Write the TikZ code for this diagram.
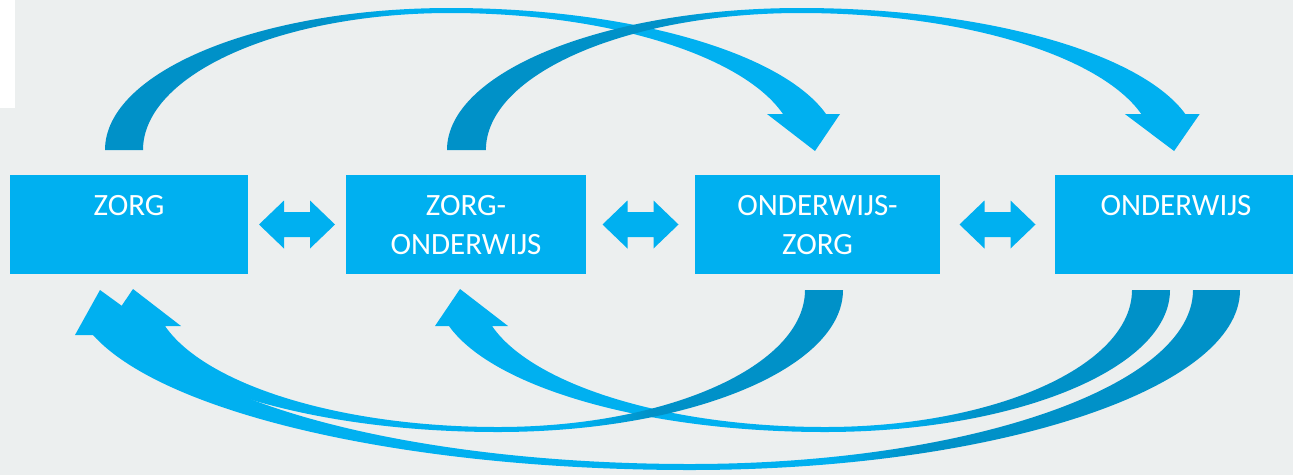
\documentclass[tikz,border=0pt]{standalone}
\usepackage{fontspec}
\setmainfont{Carlito}
\usetikzlibrary{calc}
\definecolor{bg}{HTML}{ECEFEF}
\definecolor{boxblue}{HTML}{00B0F0}
\definecolor{arrlight}{HTML}{00B0F0}
\definecolor{arrdark}{HTML}{0091C8}
\newcommand\drawribbon[5]{%
  \begin{scope}
    \clip #1;
    \fill[#4] (-10,-10) rectangle (#2,485);
    \shade[left color=#4, right color=#5] (#2,-10) rectangle (#3,485);
    \fill[#5] (#3,-10) rectangle (1303,485);
  \end{scope}}
\begin{document}
\begin{tikzpicture}[x=1pt, y=-1pt,
  box/.style={fill=boxblue, inner sep=0pt, minimum height=99pt},
  lbl/.style={text=white, font=\fontsize{31}{39}\selectfont, inner sep=0pt, anchor=base},
  dbl/.pic={\fill[boxblue] (-38,0) -- (-13,-24) -- (-13,-12.5) -- (13,-12.5) -- (13,-24) -- (38,0)
     -- (13,24) -- (13,12.5) -- (-13,12.5) -- (-13,24) -- cycle;}]
\useasboundingbox (0,0) rectangle (1293,475);
\clip (0,0) rectangle (1293,475);
\fill[bg] (0,0) rectangle (1293,475);
\fill[white] (0,0) rectangle (15,108);

% boxes
\node[box, minimum width=238pt] (zorg) at (129,224.5) {};
\node[box, minimum width=240pt] (zo) at (466,224.5) {};
\node[box, minimum width=245pt] (oz) at (817.5,224.5) {};
\node[box, minimum width=242pt] (ond) at (1176,224.5) {};

\node[lbl] (zorgL) at ([yshift=-41pt]zorg.north) {ZORG};
\node[lbl] (zoL1) at ([yshift=-41pt]zo.north) {ZORG-};
\node[lbl] (zoL2) at ([yshift=-80pt]zo.north) {ONDERWIJS};
\node[lbl] (ozL1) at ([yshift=-41pt]oz.north) {ONDERWIJS-};
\node[lbl] (ozL2) at ([yshift=-80pt]oz.north) {ZORG};
\node[lbl] (ondL) at ([yshift=-41pt]ond.north) {ONDERWIJS};

% double arrows
\pic at ($(zorg.east)!0.5!(zo.west)$) {dbl};
\pic at ($(zo.east)!0.5!(oz.west)$) {dbl};
\pic at ($(oz.east)!0.5!(ond.west)$) {dbl};

% top arrow 1: ZORG -> ONDERWIJS-ZORG
\drawribbon{(105,150) .. controls (105,71.6) and (259.5,8) .. (450,8)
  .. controls (630.6,8) and (782.6,53) .. (826,114) -- (840,114) -- (815,151) -- (767,114) -- (783,114)
  .. controls (743,55.8) and (609.1,13) .. (450,13)
  .. controls (280.4,13) and (143,74.3) .. (143,150) -- cycle}{320}{400}{arrdark}{arrlight}
% top arrow 2: ZORG-ONDERWIJS -> ONDERWIJS
\drawribbon{(447,150) .. controls (447,71.6) and (605.2,8) .. (800.3,8)
  .. controls (985.2,8) and (1140.9,53) .. (1185.3,114) -- (1199.7,114) -- (1174.1,151) -- (1124.9,114) -- (1141.3,114)
  .. controls (1100.3,55.8) and (963.2,13) .. (800.3,13)
  .. controls (626.6,13) and (485.9,74.3) .. (485.9,150) -- cycle}{667}{749}{arrdark}{arrlight}
% bottom arrow B: ONDERWIJS -> ZORG-ONDERWIJS
\drawribbon{(1170,290) .. controls (1170,368.4) and (1015.5,432) .. (825,432)
  .. controls (644.4,432) and (492.4,387) .. (449,326) -- (435,326) -- (460,289) -- (508,326) -- (492,326)
  .. controls (532,384.2) and (665.9,427) .. (825,427)
  .. controls (994.6,427) and (1132,365.7) .. (1132,290) -- cycle}{900}{980}{arrlight}{arrdark}
% bottom arrow A: ONDERWIJS-ZORG -> ZORG
\drawribbon{(843,290) .. controls (843,368.4) and (688.5,432) .. (498,432)
  .. controls (317.4,432) and (165.4,387) .. (122,326) -- (108,326) -- (133,289) -- (181,326) -- (165,326)
  .. controls (205,384.2) and (338.9,427) .. (498,427)
  .. controls (667.6,427) and (805,365.7) .. (805,290) -- cycle}{580}{650}{arrlight}{arrdark}
% bottom arrow C: ONDERWIJS -> ZORG
\drawribbon{(1240,290) .. controls (1240,389.4) and (993.8,470) .. (690,470)
  .. controls (403.6,470) and (162.8,413) .. (93,335) -- (75,335) -- (100,290) -- (162,335) -- (145,335)
  .. controls (209.2,409.3) and (428.9,464) .. (690,464)
  .. controls (967.8,464) and (1193,386.1) .. (1193,290) -- cycle}{830}{910}{arrlight}{arrdark}
\end{tikzpicture}
\end{document}
